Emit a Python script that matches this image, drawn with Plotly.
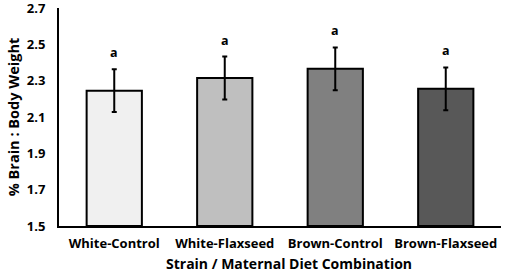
import plotly.graph_objects as go

categories = ["White-Control", "White-Flaxseed", "Brown-Control", "Brown-Flaxseed"]
means = [2.245, 2.315, 2.365, 2.255]
errors = [0.118, 0.118, 0.118, 0.118]
letters = ["a", "a", "a", "a"]
colors = ["#f0f0f0", "#bfbfbf", "#808080", "#585858"]
yticks = [1.5, 1.7, 1.9, 2.1, 2.3, 2.5, 2.7]
x_title = "Strain / Maternal Diet Combination"
y_title = "% Brain : Body Weight"

FONT = "Open Sans"

fig = go.Figure()
fig.add_trace(go.Bar(
    x=categories, y=[m - 1.5 for m in means], base=1.5,
    marker=dict(color=colors, line=dict(color="black", width=2)),
    width=0.5,
    error_y=dict(type="data", array=errors, visible=True, color="black", thickness=2, width=2.5),
    hoverinfo="skip",
))

for c, m, e, l in zip(categories, means, errors, letters):
    fig.add_annotation(x=c, y=m + e, text=l, showarrow=False, yanchor="bottom", yshift=6,
                       font=dict(family=FONT, size=12.5, color="black", weight="bold"))

fig.add_annotation(text=x_title, xref="paper", yref="paper", x=0.52, y=0, yshift=-37,
                   xanchor="center", yanchor="middle", showarrow=False,
                   font=dict(family=FONT, size=14, color="black", weight="bold"))

fig.update_layout(
    width=505, height=277,
    margin=dict(l=59, r=4, t=8, b=51),
    plot_bgcolor="white", paper_bgcolor="white",
    showlegend=False,
    font=dict(family=FONT, color="black"),
)
fig.update_xaxes(
    automargin=False,
    showline=True, linecolor="black", linewidth=2, ticks="", showgrid=False,
    ticklabelstandoff=4,
    tickfont=dict(family=FONT, size=13, color="black", weight="bold"),
)
fig.update_yaxes(
    automargin=False,
    range=[1.5, 2.7001], tickvals=yticks, ticktext=[f"{v:.1f}" for v in yticks],
    showline=True, linecolor="black", linewidth=2, ticks="", showgrid=False, zeroline=False,
    ticklabelstandoff=9, ticklabeloverflow="allow",
    tickfont=dict(family=FONT, size=13, color="black", weight="bold"),
    title=dict(text=y_title, standoff=4,
               font=dict(family=FONT, size=14.5, color="black", weight="bold")),
)

fig.write_html("out.html", config={"displayModeBar": False},
               post_script="document.body.style.margin='0';")
